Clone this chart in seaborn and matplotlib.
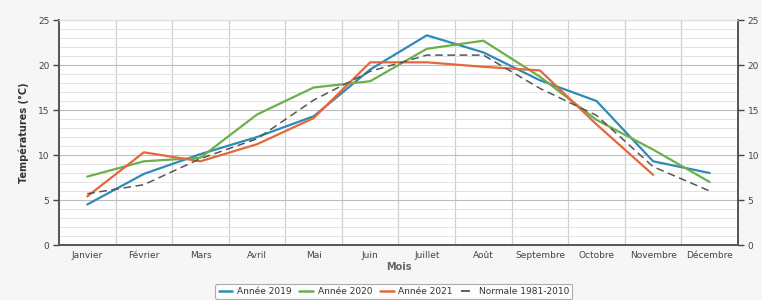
import numpy as np
import pandas as pd
import matplotlib
matplotlib.use("Agg")
import matplotlib.pyplot as plt
from matplotlib.lines import Line2D
import seaborn as sns

months = ["Janvier", "Février", "Mars", "Avril", "Mai", "Juin", "Juillet",
          "Août", "Septembre", "Octobre", "Novembre", "Décembre"]
annee_2019 = [4.5, 7.9, 10.1, 12.0, 14.3, 19.5, 23.3, 21.4, 18.3, 16.0, 9.3, 8.0]
annee_2020 = [7.6, 9.3, 9.7, 14.5, 17.5, 18.2, 21.8, 22.7, 18.7, 13.9, 10.6, 7.0]
annee_2021 = [5.4, 10.3, 9.3, 11.2, 14.1, 20.3, 20.3, 19.8, 19.4, 13.4, 7.8, np.nan]
normale = [5.7, 6.7, 9.6, 11.8, 16.1, 19.3, 21.1, 21.1, 17.4, 14.4, 8.7, 6.0]

series_names = ["Année 2019", "Année 2020", "Année 2021", "Normale 1981-2010"]
series_values = [annee_2019, annee_2020, annee_2021, normale]
colors = ["#2e8bb5", "#6cb049", "#e4683c", "#555555"]
styles = ["-", "-", "-", (0, (5, 3))]
widths = [1.6, 1.6, 1.6, 1.1]

sns.set_theme(style="white")
plt.rcParams["font.family"] = ["DejaVu Sans"]

fig = plt.figure(figsize=(7.62, 3.0), dpi=100, facecolor="#f6f6f6")
ax = fig.add_axes([0.0774, 0.1833, 0.8911, 0.75])
ax.set_facecolor("white")

handles = []
for name, vals, c, ls, lw in zip(series_names, series_values, colors, styles, widths):
    df = pd.DataFrame({"Mois": pd.Categorical(months, categories=months, ordered=True),
                       "T": vals}).dropna()
    df["pos"] = df["Mois"].cat.codes
    sns.lineplot(data=df, x="pos", y="T", ax=ax, color=c, linestyle=ls,
                 linewidth=lw, sort=False, legend=False)
    handles.append(Line2D([0], [0], color=c, linestyle=ls, linewidth=lw + 0.2, label=name))

ax.set_xlim(-0.5, len(months) - 0.5)
ax.set_ylim(0, 25)

ax.set_xticks(np.arange(len(months)))
ax.set_xticklabels(months, fontsize=6.5, color="#444444")
ax.set_xticks(np.arange(-0.5, len(months), 1), minor=True)
ax.tick_params(axis="x", which="major", length=0, pad=4)
ax.tick_params(axis="x", which="minor", length=4, width=1, color="#444444", direction="out")

ax.set_yticks(np.arange(0, 26, 5))
ax.set_yticks(np.arange(0, 26, 1), minor=True)
ax.tick_params(axis="y", which="major", length=4, width=1, color="#444444",
               labelsize=6.5, labelcolor="#444444", pad=3)
ax.tick_params(axis="y", which="minor", length=0)

ax.grid(axis="x", which="minor", color="#cfcfcf", linewidth=0.9)
ax.grid(axis="y", which="major", color="#bdbdbd", linewidth=0.8)
ax.grid(axis="y", which="minor", color="#e2e2e2", linewidth=0.7)
ax.set_axisbelow(True)

for side in ["left", "right", "bottom"]:
    ax.spines[side].set_color("#555555")
    ax.spines[side].set_linewidth(1.4)
ax.spines["top"].set_color("#dddddd")
ax.spines["top"].set_linewidth(1.0)

ax.set_xlabel("Mois", fontsize=7, fontweight="bold", color="#666666", labelpad=2)
ax.set_ylabel("Températures (°C)", fontsize=7, fontweight="bold", color="#333333", labelpad=6)

ax2 = ax.twinx()
ax2.set_ylim(0, 25)
ax2.set_yticks(np.arange(0, 26, 5))
ax2.tick_params(axis="y", length=4, width=1, color="#444444", labelsize=6.5,
                labelcolor="#444444", pad=3)
for side in ["left", "right", "bottom", "top"]:
    ax2.spines[side].set_visible(False)
ax2.grid(False)

leg = fig.legend(handles=handles, loc="center", bbox_to_anchor=(0.517, 0.028),
                 ncol=4, fontsize=6.5, frameon=True, handlelength=1.5, handletextpad=0.5,
                 columnspacing=0.9, borderpad=0.35, fancybox=True)
leg.get_frame().set_edgecolor("#999999")
leg.get_frame().set_facecolor("white")
leg.get_frame().set_linewidth(0.8)
for t in leg.get_texts():
    t.set_color("#333333")

fig.savefig("out.png", dpi=100, facecolor=fig.get_facecolor())
